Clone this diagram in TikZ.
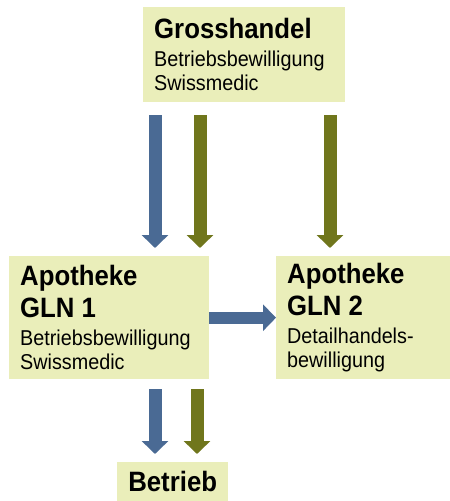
\documentclass[tikz,border=0pt]{standalone}
\usepackage{fontspec}
\setmainfont{Liberation Sans}[FakeStretch=0.92]
\usetikzlibrary{arrows.meta}

\definecolor{boxfill}{RGB}{234,238,186}
\definecolor{arrowblue}{RGB}{74,106,148}
\definecolor{arrowolive}{RGB}{112,118,28}

\newcommand{\boxtitle}[1]{{\fontsize{28}{30}\selectfont\bfseries #1}}

\begin{document}
\begin{tikzpicture}[
 x=1pt, y=-1pt,
 box/.style={fill=boxfill, anchor=north west, inner xsep=11pt, inner ysep=0pt, align=left, font=\fontsize{21.5}{24}\selectfont},
 bluearrow/.style={draw=arrowblue, line width=13pt, -{Triangle[width=26pt, length=13pt]}},
 olivearrow/.style={draw=arrowolive, line width=13pt, -{Triangle[width=26pt, length=13pt]}}
]
\useasboundingbox (0,0) rectangle (450,501);

% Grosshandel
\node[box, text width=180pt, minimum height=95pt] (gross) at (143,7) {
\boxtitle{Grosshandel}\\[4pt]
Betriebsbewilligung\\
Swissmedic
};

% Apotheken
\node[box, text width=178pt, minimum height=123pt] (apo1) at (9,256) {
\boxtitle{Apotheke}\\[6pt]
\boxtitle{GLN 1}\\[4pt]
Betriebsbewilligung\\
Swissmedic
};

\node[box, text width=152pt, minimum height=123pt] (apo2) at (276,256) {
\boxtitle{Apotheke}\\[6pt]
\boxtitle{GLN 2}\\[4pt]
Detailhandels-\\
bewilligung
};

% Betrieb
\node[box, align=center, text width=89pt, minimum height=39pt] (betrieb) at (117,462) {\boxtitle{Betrieb}};

% Pfeile
\draw[bluearrow, shorten <=13pt, shorten >=8pt] (gross.south -| 155,0) -- (apo1.north -| 155,0);
\draw[olivearrow, shorten <=13pt, shorten >=8pt] (gross.south -| 200,0) -- (apo1.north -| 200,0);
\draw[olivearrow, shorten <=13pt, shorten >=8pt] (gross.south -| 330,0) -- (apo2.north -| 330,0);
\draw[bluearrow, line width=12pt] (apo1.east) -- (apo2.west);
\draw[bluearrow, shorten <=10pt, shorten >=8pt] (apo1.south -| 155,0) -- (betrieb.north -| 155,0);
\draw[olivearrow, shorten <=10pt, shorten >=8pt] (apo1.south -| 197,0) -- (betrieb.north -| 197,0);

\end{tikzpicture}
\end{document}
